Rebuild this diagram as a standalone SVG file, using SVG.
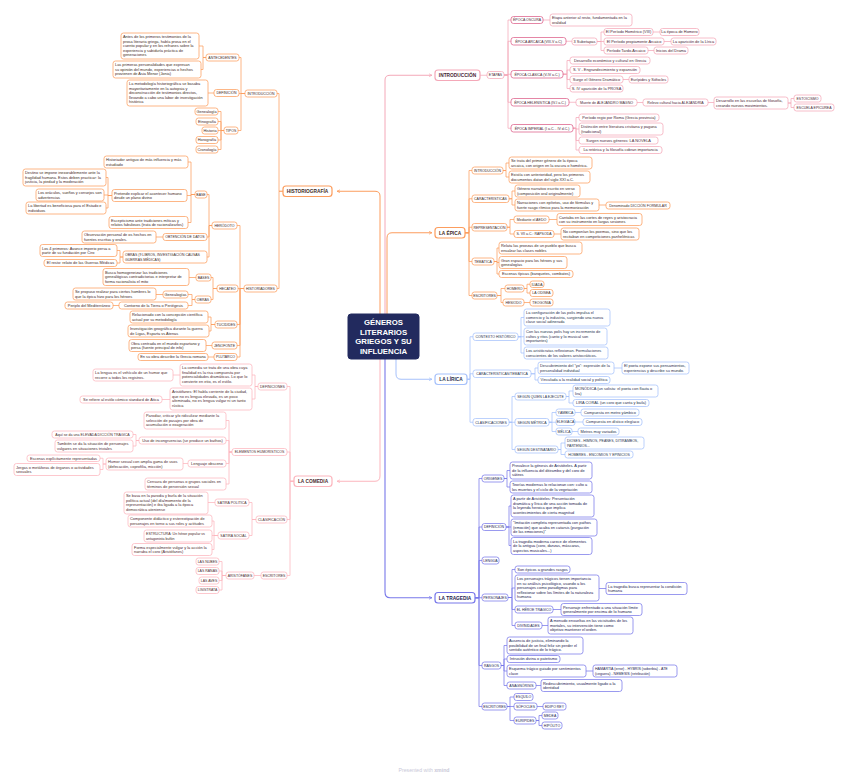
<svg xmlns="http://www.w3.org/2000/svg" width="848" height="778" viewBox="0 0 848 778">
<defs>
<style>
text{font-family:"Liberation Sans",Arial,Helvetica,sans-serif;font-size:3.9px;fill:#333}
.a{text-anchor:middle}
.c{font-size:3.5px}
.s{font-size:3.6px}
rect{fill:#fff;stroke-width:.75}
.m rect{stroke-width:1.2}
.m text{font-size:4.8px;font-weight:bold;fill:#2b2b2b}
.pk rect{stroke:#f4a8b8}
.pd rect{stroke:#dc5d88}
.pk text,.pd text{fill:#4b2633}
.or rect{stroke:#fc9d5e}
.or text{fill:#3f2a1d}
.cm rect{stroke:#fcb5bd}
.cm text{fill:#4e2b2e}
.lb rect{stroke:#a6c1fb}
.lb text{fill:#27324e}
.tr rect{stroke:#7878ea}
.tr text{fill:#22224f}
#center rect{fill:#222a5e;stroke:#222a5e;stroke-width:1}
#center text{fill:#fff;font-weight:bold;font-size:7.8px;text-anchor:middle}
#bg{fill:#fff;stroke:none}
</style>
<marker id="ar-or" viewBox="0 0 6 6" refX="5" refY="3" markerWidth="4" markerHeight="4" markerUnits="userSpaceOnUse" orient="auto"><path d="M0.5,0.8L5,3L0.5,5.2" fill="none" stroke="#fc9d5e" stroke-width="1"/></marker>
<marker id="ar-pk" viewBox="0 0 6 6" refX="5" refY="3" markerWidth="4" markerHeight="4" markerUnits="userSpaceOnUse" orient="auto"><path d="M0.5,0.8L5,3L0.5,5.2" fill="none" stroke="#f4a8b8" stroke-width="1"/></marker>
<marker id="ar-cm" viewBox="0 0 6 6" refX="5" refY="3" markerWidth="4" markerHeight="4" markerUnits="userSpaceOnUse" orient="auto"><path d="M0.5,0.8L5,3L0.5,5.2" fill="none" stroke="#fcb5bd" stroke-width="1"/></marker>
<marker id="ar-lb" viewBox="0 0 6 6" refX="5" refY="3" markerWidth="4" markerHeight="4" markerUnits="userSpaceOnUse" orient="auto"><path d="M0.5,0.8L5,3L0.5,5.2" fill="none" stroke="#a6c1fb" stroke-width="1"/></marker>
<marker id="ar-tr" viewBox="0 0 6 6" refX="5" refY="3" markerWidth="4" markerHeight="4" markerUnits="userSpaceOnUse" orient="auto"><path d="M0.5,0.8L5,3L0.5,5.2" fill="none" stroke="#7878ea" stroke-width="1"/></marker>
</defs>
<rect id="bg" width="848" height="778"/>

<g id="connectors" fill="none" stroke-width="0.75">
 <g stroke="#f4a8b8">
  <path d="M385,314V80Q385,75.25 390,75.25H432" stroke-width="1" marker-end="url(#ar-pk)"/>
  <path d="M480,75.25H487"/>
  <path d="M504,75H508V20H511M504,75H508V41.25H511M504,75H508V74.25H511M504,75H508V102.25H511M504,75H508V128.25H511"/>
  <path d="M543,20H550M566,41.25H572"/>
  <path d="M597,41.5H601V32H604M597,41.5H604M597,41.5H601V50.5H604"/>
  <path d="M653,32H660M664,41.5H671M648,50.5H654"/>
  <path d="M563,74.25H567V60.5H570M563,74.25H567V70H570M563,74.25H567V79.5H570M563,74.25H567V88.5H570"/>
  <path d="M623,79.5H629"/>
  <path d="M569,102.25H576M637,102.5H643M708,102.5H714M788,103H791V98.5H794M788,103H791V107.5H794"/>
  <path d="M573,128.25H576V117.5H579M573,128.25H576V129H579M573,128.25H576V140.5H579M573,128.25H576V150H579"/>
 </g>
 <g stroke="#fc9d5e">
  <path d="M380,314V196Q380,191.25 375,191.25H337" stroke-width="1" marker-end="url(#ar-or)"/>
  <path d="M387,314V238Q387,232.75 392,232.75H432" stroke-width="1" marker-end="url(#ar-or)"/>
  <path d="M465,232.75H469V170.5H472M465,232.75H469V198.75H472M465,232.75H469V227.25H472M465,232.75H469V261.5H472M465,232.75H469V295.5H472"/>
  <path d="M503,170.5H506V163H509M503,170.5H506V177H509"/>
  <path d="M509,198.75H512V191H515M509,198.75H512V205H515M599,205H606"/>
  <path d="M507,227.25H510V219.5H514M507,227.25H510V234H514M549,219.5H557M554,234H561"/>
  <path d="M494,261.5H497V248H499M494,261.5H497V262.5H499M494,261.5H497V274H499"/>
  <path d="M497,295.5H501V288.5H505M497,295.5H501V302.5H503"/>
  <path d="M524,288.5H527V284.25H530M524,288.5H527V293H530M524,302.5H530"/>
  <path d="M283,191.25H279V93.5H277M283,191.25H279V288.5H277"/>
  <path d="M245,93.5H241V57.5H239M245,93.5H239M245,93.5H241V130.5H238"/>
  <path d="M206,57.5H203V46H199M206,57.5H203V69.5H201M214,93H208"/>
  <path d="M224,130.5H221V111.5H218M224,130.5H221V121.5H218M224,130.5H218M224,130.5H221V140H218M224,130.5H221V149.5H218"/>
  <path d="M244,288.5H240V225.5H237M244,288.5H238M244,288.5H240V324.5H237M244,288.5H240V345.5H237M244,288.5H240V357H237"/>
  <path d="M212,225.5H209V194.5H207M212,225.5H209V237H207M212,225.5H209V257H207"/>
  <path d="M195,194.5H191V162H188M195,194.5H191V195.5H187M195,194.5H191V222.5H188"/>
  <path d="M112,195.5H108V177.5H106M112,195.5H108V195H104M112,195.5H108V208H106"/>
  <path d="M163,237H156M123,257H120V250.5H117M123,257H120V263H117"/>
  <path d="M217,288.5H213V277.5H211M217,288.5H213V299.5H211M196,277.5H189"/>
  <path d="M195,299.5H192V294.5H188M195,299.5H192V305.5H188M163,294.5H156M119,305.5H113"/>
  <path d="M215,324.5H211V317H208M215,324.5H211V331H209M212,345.5H206M214,357H208"/>
 </g>
 <g stroke="#fcb5bd">
  <path d="M380,359V476Q380,481.25 375,481.25H337" stroke-width="1" marker-end="url(#ar-cm)"/>
  <path d="M294,481.25H290V386.5H287M294,481.25H290V452H287M294,481.25H290V519.5H287M294,481.25H290V575.5H287"/>
  <path d="M258,386.5H255V375H252M258,386.5H255V399H252M180,375H173M170,399.5H162"/>
  <path d="M232,452H229V420.5H226M232,452H229V440.5H226M232,452H229V463.5H226M232,452H229V484H226"/>
  <path d="M139,440.5H136V434.5H133M139,440.5H136V446H133M188,463.5H183"/>
  <path d="M106,464H103V458.25H100M106,464H103V469.5H100"/>
  <path d="M256,519.5H252V502.5H249M256,519.5H252V535.5H249M215,502.5H208"/>
  <path d="M218,535.5H214V521H212M218,535.5H212M218,535.5H214V549.5H212"/>
  <path d="M261,575.5H254M226,575.5H222V561.5H219M226,575.5H222V571H219M226,575.5H222V580.5H219M226,575.5H222V590H219"/>
 </g>
 <g stroke="#a6c1fb">
  <path d="M396,359V374Q396,379.25 401,379.25H432" stroke-width="1" marker-end="url(#ar-lb)"/>
  <path d="M467,379.25H470V336.75H473M467,379.25H470V373.75H473M467,379.25H470V422.25H473"/>
  <path d="M518,336.75H521V317.5H524M518,336.75H524M518,336.75H521V353H524"/>
  <path d="M531,373.75H535V368H538M531,373.75H535V380H538M614,368H622"/>
  <path d="M509,422.25H512V396.5H515M509,422.25H515M509,422.25H512V449.5H515"/>
  <path d="M566,396.5H569V391H573M566,396.5H569V403H573"/>
  <path d="M549,422.25H552V412.5H556M549,422.25H556M549,422.25H552V431.5H556"/>
  <path d="M575,412.5H581M575,422H583M572,431.5H578"/>
  <path d="M558,449.5H561V443H565M558,449.5H561V454.5H565"/>
 </g>
 <g stroke="#7878ea">
  <path d="M385,359V592Q385,597.75 390,597.75H432" stroke-width="1.1" marker-end="url(#ar-tr)"/>
  <path d="M475,597.75H479V478.5H482M475,597.75H479V527H482M475,597.75H479V560.5H482M475,597.75H482M475,597.75H479V665.5H482M475,597.75H479V706.5H482"/>
  <path d="M504,478.5H507V470.5H510M504,478.5H507V487H510"/>
  <path d="M506,527H509V506H511M506,527H511M506,527H509V545.5H511"/>
  <path d="M508,597.5H512V569.5H515M508,597.5H512V588H515M508,597.5H512V609.5H515M508,597.5H512V625.5H515"/>
  <path d="M599,588.5H606M553,609.5H561M542,625.5H548"/>
  <path d="M501,665.5H504V645.5H507M501,665.5H504V659H507M501,665.5H504V671H507M501,665.5H504V685.5H507"/>
  <path d="M586,671H593M536,685.5H541"/>
  <path d="M507,706.5H510V697H514M507,706.5H514M507,706.5H510V720.5H514"/>
  <path d="M537,706.5H543M536,720.5H539V715.5H542M536,720.5H539V725.5H542"/>
 </g>
</g>

<g id="center"><rect x="348" y="314" width="71" height="45" rx="3"/><text x="383.5" y="325">GÉNEROS</text><text x="383.5" y="334.5">LITERARIOS</text><text x="383.5" y="344">GRIEGOS Y SU</text><text x="383.5" y="353.5">INFLUENCIA</text></g>

<!-- INTRODUCCIÓN (right) -->
<g id="n-intro" class="pk m"><rect x="435" y="70" width="45" height="10.5" rx="3"/><text class="a" x="457.5" y="77">INTRODUCCIÓN</text></g>
<g id="n-etapas" class="pk"><rect x="487" y="71.5" width="17" height="7" rx="2.5"/><text class="a c" x="495.5" y="76.2">ETAPAS</text></g>
<g id="n-oscura" class="pd"><rect x="511" y="16.5" width="32" height="7" rx="2.5"/><text class="a c" x="527" y="21.2">ÉPOCA OSCURA</text></g>
<g id="n-oscura-1" class="pk"><rect x="550" y="14" width="82" height="12" rx="2.5"/><text x="552" y="19">Etapa anterior al resto, fundamentada en la<tspan x="552" dy="4.6">oralidad</tspan></text></g>
<g id="n-arcaica" class="pd"><rect x="511" y="37.5" width="55" height="7.5" rx="2.5"/><text class="a c" x="538.5" y="42.5">ÉPOCA ARCAICA (VIII-V a.C)</text></g>
<g id="n-subetapas" class="pk"><rect x="572" y="38" width="25" height="7" rx="2.5"/><text class="a" x="584.5" y="42.9">3 Subetapas</text></g>
<g id="n-homerico" class="pk"><rect x="604" y="28.5" width="49" height="7" rx="2.5"/><text class="a" x="628.5" y="33.4">El Período Homérico (VIII)</text></g>
<g id="n-homero" class="pk"><rect x="660" y="28.5" width="39" height="7" rx="2.5"/><text class="a" x="679.5" y="33.4">La época de Homero</text></g>
<g id="n-propio" class="pk"><rect x="604" y="38" width="60" height="7" rx="2.5"/><text class="a" x="634" y="42.9">El Período propiamente Arcaico</text></g>
<g id="n-lirica-ap" class="pk"><rect x="671" y="38" width="45" height="7" rx="2.5"/><text class="a" x="693.5" y="42.9">La aparición de la Lírica</text></g>
<g id="n-tardo" class="pk"><rect x="604" y="47" width="44" height="7" rx="2.5"/><text class="a" x="626" y="51.9">Período Tardo-Arcaico</text></g>
<g id="n-drama" class="pk"><rect x="654" y="47" width="34" height="7" rx="2.5"/><text class="a" x="671" y="51.9">Inicios del Drama</text></g>
<g id="n-clasica" class="pd"><rect x="511" y="70.5" width="52" height="7.5" rx="2.5"/><text class="a c" x="537" y="75.5">ÉPOCA CLÁSICA (V-IV a.C.)</text></g>
<g id="n-clas-1" class="pk"><rect x="570" y="57" width="80" height="7" rx="2.5"/><text class="a" x="610" y="61.9">Desarrollo económico y cultural en Grecia</text></g>
<g id="n-clas-2" class="pk"><rect x="570" y="66.5" width="70" height="7" rx="2.5"/><text class="a" x="605" y="71.4">S. V - Engrandecimiento y expansión</text></g>
<g id="n-clas-3" class="pk"><rect x="570" y="76" width="53" height="7" rx="2.5"/><text class="a" x="596.5" y="80.9">Surge el Género Dramático</text></g>
<g id="n-clas-3a" class="pk"><rect x="629" y="76" width="39" height="7" rx="2.5"/><text class="a" x="648.5" y="80.9">Eurípides y Sófocles</text></g>
<g id="n-clas-4" class="pk"><rect x="570" y="85" width="53" height="7" rx="2.5"/><text class="a" x="596.5" y="89.9">S. IV aparición de la PROSA</text></g>
<g id="n-helen" class="pd"><rect x="511" y="98.5" width="58" height="7.5" rx="2.5"/><text class="a c" x="540" y="103.5">ÉPOCA HELENÍSTICA (IV-I a.C.)</text></g>
<g id="n-helen-1" class="pk"><rect x="576" y="99" width="61" height="7" rx="2.5"/><text class="a s" x="606.5" y="103.8">Muerte de ALEJANDRO MAGNO</text></g>
<g id="n-helen-2" class="pk"><rect x="643" y="99" width="65" height="7" rx="2.5"/><text class="a s" x="675.5" y="103.8">Relevo cultural hacia ALEJANDRÍA</text></g>
<g id="n-helen-3" class="pk"><rect x="714" y="97" width="74" height="12" rx="2.5"/><text x="716" y="102">Desarrollo en las escuelas de filosofía,<tspan x="716" dy="4.6">creando nuevos movimientos.</tspan></text></g>
<g id="n-estoicismo" class="pk"><rect x="794" y="95" width="27" height="7" rx="2.5"/><text class="a c" x="807.5" y="99.7">ESTOICISMO</text></g>
<g id="n-epicurea" class="pk"><rect x="794" y="104" width="40" height="7" rx="2.5"/><text class="a c" x="814" y="108.7">ESCUELA EPICÚREA</text></g>
<g id="n-imperial" class="pd"><rect x="511" y="124.5" width="62" height="7.5" rx="2.5"/><text class="a c" x="542" y="129.5">ÉPOCA IMPERIAL (I a.C. - IV d.C.)</text></g>
<g id="n-imp-1" class="pk"><rect x="579" y="114" width="80" height="7" rx="2.5"/><text class="a" x="619" y="118.9">Período regio por Roma (Grecia provincia)</text></g>
<g id="n-imp-2" class="pk"><rect x="579" y="123" width="84" height="12" rx="2.5"/><text x="581" y="128">Distinción entre literatura cristiana y pagana<tspan x="581" dy="4.6">(tradicional)</tspan></text></g>
<g id="n-imp-3" class="pk"><rect x="579" y="137" width="79" height="7" rx="2.5"/><text class="a" x="618.5" y="141.9">Surgen nuevos géneros: LA NOVELA</text></g>
<g id="n-imp-4" class="pk"><rect x="579" y="146.5" width="83" height="7" rx="2.5"/><text class="a" x="620.5" y="151.4">La retórica y la filosofía cobran importancia</text></g>

<!-- LA ÉPICA -->
<g id="n-epica" class="or m"><rect x="435" y="227.5" width="30" height="10.5" rx="3"/><text class="a" x="450" y="234.5">LA ÉPICA</text></g>
<g id="n-ep-intro" class="or"><rect x="472" y="167" width="31" height="7" rx="2.5"/><text class="a c" x="487.5" y="171.7">INTRODUCCIÓN</text></g>
<g id="n-ep-intro-1" class="or"><rect x="509" y="157" width="83" height="12" rx="2.5"/><text x="511" y="162">Se trata del primer género de la época<tspan x="511" dy="4.6">arcaica, con origen en la oscura o homérica.</tspan></text></g>
<g id="n-ep-intro-2" class="or"><rect x="509" y="171" width="81" height="12" rx="2.5"/><text x="511" y="176">Existía con anterioridad, pero los primeros<tspan x="511" dy="4.6">documentos datan del siglo XXI a.C.</tspan></text></g>
<g id="n-ep-car" class="or"><rect x="472" y="195" width="37" height="7.5" rx="2.5"/><text class="a c" x="490.5" y="200">CARACTERÍSTICAS</text></g>
<g id="n-ep-car-1" class="or"><rect x="515" y="185" width="65" height="12" rx="2.5"/><text x="517" y="190">Género narrativo escrito en verso<tspan x="517" dy="4.6">(composición oral originalmente)</tspan></text></g>
<g id="n-ep-car-2" class="or"><rect x="515" y="199" width="84" height="12" rx="2.5"/><text x="517" y="204">Narraciones con epítetos, uso de fórmulas y<tspan x="517" dy="4.6">fuerte rasgo rítmico para la memorización</tspan></text></g>
<g id="n-ep-diccion" class="or"><rect x="606" y="202" width="64" height="7" rx="2.5"/><text class="a s" x="638" y="206.8">Denominado DICCIÓN FORMULAR</text></g>
<g id="n-ep-rep" class="or"><rect x="472" y="223.5" width="35" height="7.5" rx="2.5"/><text class="a c" x="489.5" y="228.5">REPRESENTACIÓN</text></g>
<g id="n-ep-aedo" class="or"><rect x="514" y="216" width="35" height="7" rx="2.5"/><text class="a s" x="531.5" y="220.8">Mediante el AEDO</text></g>
<g id="n-ep-aedo-1" class="or"><rect x="557" y="213.5" width="85" height="12" rx="2.5"/><text x="559" y="218.5">Cantaba en las cortes de reyes y aristocracia<tspan x="559" dy="4.6">con su instrumento en largas sesiones</tspan></text></g>
<g id="n-ep-rapsoda" class="or"><rect x="514" y="230.5" width="40" height="7" rx="2.5"/><text class="a c" x="534" y="235.3">S. VII a.C.: RAPSODA</text></g>
<g id="n-ep-rapsoda-1" class="or"><rect x="561" y="228" width="78" height="12" rx="2.5"/><text x="563" y="233">No componían los poemas, sino que los<tspan x="563" dy="4.6">recitaban en competiciones panhelénicas</tspan></text></g>
<g id="n-ep-tem" class="or"><rect x="472" y="258" width="22" height="7" rx="2.5"/><text class="a c" x="483" y="262.7">TEMÁTICA</text></g>
<g id="n-ep-tem-1" class="or"><rect x="499" y="242" width="83" height="12" rx="2.5"/><text x="501" y="247">Relata las proezas de un pueblo que busca<tspan x="501" dy="4.6">ensalzar las clases nobles</tspan></text></g>
<g id="n-ep-tem-2" class="or"><rect x="499" y="256.5" width="68" height="12" rx="2.5"/><text x="501" y="261.5">Gran espacio para los héroes y sus<tspan x="501" dy="4.6">genealogías</tspan></text></g>
<g id="n-ep-tem-3" class="or"><rect x="499" y="270.5" width="74" height="7" rx="2.5"/><text class="a" x="536" y="275.4">Escenas típicas (banquetes, combates)</text></g>
<g id="n-ep-esc" class="or"><rect x="472" y="292" width="25" height="7" rx="2.5"/><text class="a c" x="484.5" y="296.7">ESCRITORES</text></g>
<g id="n-ep-homero" class="or"><rect x="505" y="285" width="19" height="7" rx="2.5"/><text class="a c" x="514.5" y="289.7">HOMERO</text></g>
<g id="n-ep-iliada" class="or"><rect x="530" y="281" width="14" height="6.5" rx="2.5"/><text class="a c" x="537" y="285.5">ILIADA</text></g>
<g id="n-ep-odisea" class="or"><rect x="530" y="289.5" width="23" height="7" rx="2.5"/><text class="a c" x="541.5" y="294.2">LA ODISEA</text></g>
<g id="n-ep-hesiodo" class="or"><rect x="503" y="299" width="21" height="7" rx="2.5"/><text class="a c" x="513.5" y="303.7">HESÍODO</text></g>
<g id="n-ep-teogonia" class="or"><rect x="530" y="299" width="23" height="7" rx="2.5"/><text class="a c" x="541.5" y="303.7">TEOGONÍA</text></g>

<!-- LA LÍRICA -->
<g id="n-lirica" class="lb m"><rect x="435" y="374" width="32" height="10.5" rx="3"/><text class="a" x="451" y="381">LA LÍRICA</text></g>
<g id="n-li-ctx" class="lb"><rect x="473" y="333" width="45" height="7.5" rx="2.5"/><text class="a c" x="495.5" y="338">CONTEXTO HISTÓRICO</text></g>
<g id="n-li-ctx-1" class="lb"><rect x="524" y="309" width="86" height="17" rx="2.5"/><text x="526" y="314">La configuración de las polis impulsa el<tspan x="526" dy="4.6">comercio y la industria, surgiendo una nueva</tspan><tspan x="526" dy="4.6">clase social adinerada</tspan></text></g>
<g id="n-li-ctx-2" class="lb"><rect x="524" y="328" width="83" height="17" rx="2.5"/><text x="526" y="333">Con las nuevas polis hay un incremento de<tspan x="526" dy="4.6">cultos y ritos (canto y lo musical son</tspan><tspan x="526" dy="4.6">importantes)</tspan></text></g>
<g id="n-li-ctx-3" class="lb"><rect x="524" y="347" width="84" height="12" rx="2.5"/><text x="526" y="352">Los aristócratas reflexionan. Formulaciones<tspan x="526" dy="4.6">conscientes de los valores aristocráticos.</tspan></text></g>
<g id="n-li-car" class="lb"><rect x="473" y="370" width="58" height="7.5" rx="2.5"/><text class="a c" x="502" y="375">CARACTERÍSTICAS/TEMÁTICA</text></g>
<g id="n-li-car-1" class="lb"><rect x="538" y="362" width="76" height="12" rx="2.5"/><text x="540" y="367">Descubrimiento del "yo": expresión de la<tspan x="540" dy="4.6">personalidad individual</tspan></text></g>
<g id="n-li-car-1a" class="lb"><rect x="622" y="362" width="67" height="12" rx="2.5"/><text x="624" y="367">El poeta expone sus pensamientos,<tspan x="624" dy="4.6">experiencias y describe su mundo.</tspan></text></g>
<g id="n-li-car-2" class="lb"><rect x="538" y="376.5" width="72" height="7" rx="2.5"/><text class="a" x="574" y="381.4">Vinculada a la realidad social y política</text></g>
<g id="n-li-cla" class="lb"><rect x="473" y="418.5" width="36" height="7.5" rx="2.5"/><text class="a c" x="491" y="423.5">CLASIFICACIONES</text></g>
<g id="n-li-quien" class="lb"><rect x="515" y="393" width="51" height="7" rx="2.5"/><text class="a c" x="540.5" y="397.7">SEGÚN QUIEN LA EJECUTE</text></g>
<g id="n-li-monodica" class="lb"><rect x="573" y="385" width="85" height="12" rx="2.5"/><text x="575" y="390">MONÓDICA (un solista: el poeta con flauta o<tspan x="575" dy="4.6">lira)</tspan></text></g>
<g id="n-li-coral" class="lb"><rect x="573" y="399.5" width="76" height="7" rx="2.5"/><text class="a" x="611" y="404.4">LIRA CORAL (un coro que canta y baila)</text></g>
<g id="n-li-metrica" class="lb"><rect x="515" y="418.5" width="34" height="7.5" rx="2.5"/><text class="a c" x="532" y="423.5">SEGÚN MÉTRICA</text></g>
<g id="n-li-yambica" class="lb"><rect x="556" y="409" width="19" height="7" rx="2.5"/><text class="a c" x="565.5" y="413.7">YÁMBICA</text></g>
<g id="n-li-yambica-1" class="lb"><rect x="581" y="409" width="58" height="7" rx="2.5"/><text class="a" x="610" y="413.9">Compuesta en metro yámbico</text></g>
<g id="n-li-elegiaca" class="lb"><rect x="556" y="418.5" width="19" height="7" rx="2.5"/><text class="a c" x="565.5" y="423.2">ELEGÍACA</text></g>
<g id="n-li-elegiaca-1" class="lb"><rect x="583" y="418.5" width="59" height="7" rx="2.5"/><text class="a" x="612.5" y="423.4">Compuesta en dístico elegíaco</text></g>
<g id="n-li-melica" class="lb"><rect x="556" y="428" width="16" height="7" rx="2.5"/><text class="a c" x="564" y="432.7">MÉLICA</text></g>
<g id="n-li-melica-1" class="lb"><rect x="578" y="428" width="41" height="7" rx="2.5"/><text class="a" x="598.5" y="432.9">Metros muy variados</text></g>
<g id="n-li-dest" class="lb"><rect x="515" y="446" width="43" height="7" rx="2.5"/><text class="a c" x="536.5" y="450.7">SEGÚN DESTINATARIO</text></g>
<g id="n-li-dioses" class="lb"><rect x="565" y="437" width="79" height="12" rx="2.5"/><text class="c" x="567" y="442">DIOSES - HIMNOS, PEANES, DITIRAMBOS,<tspan x="567" dy="4.6">PARTENIOS...</tspan></text></g>
<g id="n-li-hombres" class="lb"><rect x="565" y="451" width="68" height="7" rx="2.5"/><text class="a c" x="599" y="455.7">HOMBRES - ENCOMIOS Y EPINICIOS</text></g>

<!-- LA TRAGEDIA -->
<g id="n-tragedia" class="tr m"><rect x="435" y="592.5" width="40" height="10.5" rx="3"/><text class="a" x="455" y="599.5">LA TRAGEDIA</text></g>
<g id="n-tr-origen" class="tr"><rect x="482" y="475" width="22" height="7" rx="2.5"/><text class="a c" x="493" y="479.7">ORÍGENES</text></g>
<g id="n-tr-origen-1" class="tr"><rect x="510" y="462" width="82" height="17" rx="2.5"/><text x="512" y="467">Prevalece la génesis de Aristóteles. A partir<tspan x="512" dy="4.6">de la influencia del ditirambo y del coro de</tspan><tspan x="512" dy="4.6">sátiros</tspan></text></g>
<g id="n-tr-origen-2" class="tr"><rect x="510" y="481" width="82" height="12" rx="2.5"/><text x="512" y="486">Teorías modernas lo relacionan con: culto a<tspan x="512" dy="4.6">los muertos y el ciclo de la vegetación</tspan></text></g>
<g id="n-tr-def" class="tr"><rect x="482" y="523.5" width="24" height="7" rx="2.5"/><text class="a c" x="494" y="528.2">DEFINICIÓN</text></g>
<g id="n-tr-def-1" class="tr"><rect x="511" y="495" width="83" height="22" rx="2.5"/><text x="513" y="500">A partir de Aristóteles: Presentación<tspan x="513" dy="4.6">dramática y lírica de una acción tomada de</tspan><tspan x="513" dy="4.6">la leyenda heroica que implica</tspan><tspan x="513" dy="4.6">acontecimientos de cierta magnitud</tspan></text></g>
<g id="n-tr-def-2" class="tr"><rect x="511" y="519" width="86" height="17" rx="2.5"/><text x="513" y="524">"Imitación completa representada con pathos<tspan x="513" dy="4.6">(emoción) que acaba en catarsis (purgación</tspan><tspan x="513" dy="4.6">de las emociones)"</tspan></text></g>
<g id="n-tr-def-3" class="tr"><rect x="511" y="537.5" width="81" height="17" rx="2.5"/><text x="513" y="542.5">La tragedia moderna carece de elementos<tspan x="513" dy="4.6">de la antigua (coro, danzas, máscaras,</tspan><tspan x="513" dy="4.6">aspectos musicales...)</tspan></text></g>
<g id="n-tr-lengua" class="tr"><rect x="482" y="557" width="17" height="7" rx="2.5"/><text class="a c" x="490.5" y="561.7">LENGUA</text></g>
<g id="n-tr-pers" class="tr"><rect x="482" y="594" width="26" height="7" rx="2.5"/><text class="a c" x="495" y="598.7">PERSONAJES</text></g>
<g id="n-tr-pers-1" class="tr"><rect x="515" y="566" width="55" height="7" rx="2.5"/><text class="a" x="542.5" y="570.9">Son épicos a grandes rasgos</text></g>
<g id="n-tr-pers-2" class="tr"><rect x="515" y="575" width="84" height="26" rx="2.5"/><text x="517" y="580">Los personajes trágicos tienen importancia<tspan x="517" dy="4.6">en su análisis psicológico, usando a los</tspan><tspan x="517" dy="4.6">personajes como paradigmas para</tspan><tspan x="517" dy="4.6">reflexionar sobre los límites de la naturaleza</tspan><tspan x="517" dy="4.6">humana</tspan></text></g>
<g id="n-tr-pers-2a" class="tr"><rect x="606" y="582.5" width="81" height="12" rx="2.5"/><text x="608" y="587.5">La tragedia busca representar la condición<tspan x="608" dy="4.6">humana</tspan></text></g>
<g id="n-tr-heroe" class="tr"><rect x="515" y="606" width="38" height="7" rx="2.5"/><text class="a c" x="534" y="610.7">EL HÉROE TRÁGICO</text></g>
<g id="n-tr-heroe-1" class="tr"><rect x="561" y="603.5" width="81" height="12" rx="2.5"/><text x="563" y="608.5">Personaje enfrentado a una situación límite<tspan x="563" dy="4.6">generalmente por encima de lo humano</tspan></text></g>
<g id="n-tr-div" class="tr"><rect x="515" y="622" width="27" height="7" rx="2.5"/><text class="a c" x="528.5" y="626.7">DIVINIDADES</text></g>
<g id="n-tr-div-1" class="tr"><rect x="548" y="617" width="85" height="17" rx="2.5"/><text x="550" y="622">A menudo envueltas en las vicisitudes de los<tspan x="550" dy="4.6">mortales, su intervención tiene como</tspan><tspan x="550" dy="4.6">objetivo mantener el orden.</tspan></text></g>
<g id="n-tr-rasgos" class="tr"><rect x="482" y="662" width="19" height="7" rx="2.5"/><text class="a c" x="491.5" y="666.7">RASGOS</text></g>
<g id="n-tr-rasgos-1" class="tr"><rect x="507" y="637" width="76" height="17" rx="2.5"/><text x="509" y="642">Ausencia de justicia, eliminando la<tspan x="509" dy="4.6">posibilidad de un final feliz sin perder el</tspan><tspan x="509" dy="4.6">sentido auténtico de lo trágico.</tspan></text></g>
<g id="n-tr-rasgos-2" class="tr"><rect x="507" y="655.5" width="53" height="7" rx="2.5"/><text class="a" x="533.5" y="660.4">Intrusión divina o patetismo</text></g>
<g id="n-tr-rasgos-3" class="tr"><rect x="507" y="665" width="79" height="12" rx="2.5"/><text x="509" y="670">Esquema trágico guiado por sentimientos<tspan x="509" dy="4.6">clave</tspan></text></g>
<g id="n-tr-hamartia" class="tr"><rect x="593" y="665" width="84" height="12" rx="2.5"/><text class="s" x="595" y="670">HAMARTIA (error) - HYBRIS (soberbia) - ATE<tspan x="595" dy="4.6">(ceguera) - NEMESIS (retribución)</tspan></text></g>
<g id="n-tr-anag" class="tr"><rect x="507" y="682" width="29" height="7" rx="2.5"/><text class="a c" x="521.5" y="686.7">ANAGNÓRISIS</text></g>
<g id="n-tr-anag-1" class="tr"><rect x="541" y="679.5" width="81" height="12" rx="2.5"/><text x="543" y="684.5">Redescubrimiento, usualmente ligado a la<tspan x="543" dy="4.6">identidad</tspan></text></g>
<g id="n-tr-esc" class="tr"><rect x="482" y="703" width="25" height="7" rx="2.5"/><text class="a c" x="494.5" y="707.7">ESCRITORES</text></g>
<g id="n-tr-esquilo" class="tr"><rect x="514" y="693.5" width="19" height="7" rx="2.5"/><text class="a c" x="523.5" y="698.2">ESQUILO</text></g>
<g id="n-tr-sofocles" class="tr"><rect x="514" y="703" width="23" height="7" rx="2.5"/><text class="a c" x="525.5" y="707.7">SÓFOCLES</text></g>
<g id="n-tr-edipo" class="tr"><rect x="543" y="703" width="23" height="7" rx="2.5"/><text class="a c" x="554.5" y="707.7">EDIPO REY</text></g>
<g id="n-tr-euripides" class="tr"><rect x="514" y="717" width="22" height="7" rx="2.5"/><text class="a c" x="525" y="721.7">EURÍPIDES</text></g>
<g id="n-tr-medea" class="tr"><rect x="542" y="712" width="16" height="7" rx="2.5"/><text class="a c" x="550" y="716.7">MEDEA</text></g>
<g id="n-tr-hipolito" class="tr"><rect x="542" y="722" width="20" height="7" rx="2.5"/><text class="a c" x="552" y="726.7">HIPÓLITO</text></g>

<!-- HISTORIOGRAFÍA -->
<g id="n-hist" class="or m"><rect x="283" y="186" width="49" height="10.5" rx="3"/><text class="a" x="307.5" y="193">HISTORIOGRAFÍA</text></g>
<g id="n-hi-intro" class="or"><rect x="245" y="90" width="32" height="7" rx="2.5"/><text class="a c" x="261" y="94.7">INTRODUCCIÓN</text></g>
<g id="n-hi-antec" class="or"><rect x="206" y="54" width="33" height="7" rx="2.5"/><text class="a c" x="222.5" y="58.7">ANTECEDENTES</text></g>
<g id="n-hi-antec-1" class="or"><rect x="121" y="33" width="78" height="26" rx="2.5"/><text x="123" y="38">Antes de los primeros testimonios de la<tspan x="123" dy="4.6">prosa literaria griega, había prosa en el</tspan><tspan x="123" dy="4.6">cuento popular y en los refranes sobre la</tspan><tspan x="123" dy="4.6">experiencia y sabiduría práctica de</tspan><tspan x="123" dy="4.6">generaciones</tspan></text></g>
<g id="n-hi-antec-2" class="or"><rect x="113" y="61" width="88" height="17" rx="2.5"/><text x="115" y="66">Las primeras personalidades que expresan<tspan x="115" dy="4.6">su opinión del mundo, experiencias o hechos</tspan><tspan x="115" dy="4.6">provienen de Asia Menor (Jonia)</tspan></text></g>
<g id="n-hi-def" class="or"><rect x="214" y="89.5" width="25" height="7" rx="2.5"/><text class="a c" x="226.5" y="94.2">DEFINICIÓN</text></g>
<g id="n-hi-def-1" class="or"><rect x="127" y="80" width="81" height="26" rx="2.5"/><text x="129" y="85">La metodología historiográfica se basaba<tspan x="129" dy="4.6">mayoritariamente en la autopsia y</tspan><tspan x="129" dy="4.6">deconstrucción de testimonios directos,</tspan><tspan x="129" dy="4.6">llevando a cabo una labor de investigación</tspan><tspan x="129" dy="4.6">histórica</tspan></text></g>
<g id="n-hi-tipos" class="or"><rect x="224" y="127" width="14" height="7" rx="2.5"/><text class="a c" x="231" y="131.7">TIPOS</text></g>
<g id="n-hi-t1" class="or"><rect x="195" y="108" width="23" height="7" rx="2.5"/><text class="a" x="206.5" y="112.9">Genealogía</text></g>
<g id="n-hi-t2" class="or"><rect x="196" y="118" width="22" height="7" rx="2.5"/><text class="a" x="207" y="122.9">Etnografía</text></g>
<g id="n-hi-t3" class="or"><rect x="202" y="127" width="16" height="7" rx="2.5"/><text class="a" x="210" y="131.9">Historia</text></g>
<g id="n-hi-t4" class="or"><rect x="196" y="136.5" width="22" height="7" rx="2.5"/><text class="a" x="207" y="141.4">Horografía</text></g>
<g id="n-hi-t5" class="or"><rect x="196" y="146" width="22" height="7" rx="2.5"/><text class="a" x="207" y="150.9">Cronología</text></g>
<g id="n-hi-hist" class="or"><rect x="244" y="285" width="33" height="7" rx="2.5"/><text class="a c" x="260.5" y="289.7">HISTORIADORES</text></g>
<g id="n-hi-herodoto" class="or"><rect x="212" y="222" width="25" height="7" rx="2.5"/><text class="a c" x="224.5" y="226.7">HERÓDOTO</text></g>
<g id="n-hi-base" class="or"><rect x="195" y="191" width="12" height="7" rx="2.5"/><text class="a c" x="201" y="195.7">BASE</text></g>
<g id="n-hi-base-1" class="or"><rect x="104" y="156" width="84" height="12" rx="2.5"/><text x="106" y="161">Historiador antiguo de más influencia y más<tspan x="106" dy="4.6">estudiado</tspan></text></g>
<g id="n-hi-base-2" class="or"><rect x="112" y="189.5" width="75" height="12" rx="2.5"/><text x="114" y="194.5">Pretende explicar el acontecer humano<tspan x="114" dy="4.6">desde un plano divino</tspan></text></g>
<g id="n-hi-destino" class="or"><rect x="23" y="169" width="83" height="17" rx="2.5"/><text x="25" y="174">Destino se impone inexorablemente ante la<tspan x="25" dy="4.6">fragilidad humana. Estos deben practicar: la</tspan><tspan x="25" dy="4.6">justicia, la piedad y la moderación</tspan></text></g>
<g id="n-hi-oraculos" class="or"><rect x="36" y="189" width="68" height="12" rx="2.5"/><text x="38" y="194">Los oráculos, sueños y consejos son<tspan x="38" dy="4.6">advertencias</tspan></text></g>
<g id="n-hi-libertad" class="or"><rect x="26" y="202" width="80" height="12" rx="2.5"/><text x="28" y="207">La libertad es beneficiosa para el Estado e<tspan x="28" dy="4.6">individuos</tspan></text></g>
<g id="n-hi-base-3" class="or"><rect x="109" y="216.5" width="79" height="12" rx="2.5"/><text x="111" y="221.5">Escepticismo ante tradiciones míticas y<tspan x="111" dy="4.6">relatos fabulosos (trata de racionalizarlos)</tspan></text></g>
<g id="n-hi-obt" class="or"><rect x="163" y="233.5" width="44" height="7" rx="2.5"/><text class="a c" x="185" y="238.2">OBTENCIÓN DE DATOS</text></g>
<g id="n-hi-obt-1" class="or"><rect x="82" y="231" width="74" height="12" rx="2.5"/><text x="84" y="236">Observación personal de os hechos en<tspan x="84" dy="4.6">fuentes escritas y orales.</tspan></text></g>
<g id="n-hi-obras" class="or"><rect x="123" y="251" width="84" height="12" rx="2.5"/><text class="c" x="125" y="256">OBRAS (9 LIBROS, INVESTIGACIÓN CAUSAS<tspan x="125" dy="4.6">GUERRAS MÉDICAS)</tspan></text></g>
<g id="n-hi-obras-1" class="or"><rect x="40" y="244.5" width="77" height="12" rx="2.5"/><text x="42" y="249.5">Los 4 primeros: Avance imperio persa a<tspan x="42" dy="4.6">partir de su fundación por Ciro</tspan></text></g>
<g id="n-hi-obras-2" class="or"><rect x="44" y="259.5" width="73" height="7" rx="2.5"/><text class="a" x="80.5" y="264.4">El resto: relato de las Guerras Médicas</text></g>
<g id="n-hi-hecateo" class="or"><rect x="217" y="285" width="21" height="7" rx="2.5"/><text class="a c" x="227.5" y="289.7">HECATEO</text></g>
<g id="n-hi-bases" class="or"><rect x="196" y="274" width="15" height="7" rx="2.5"/><text class="a c" x="203.5" y="278.7">BASES</text></g>
<g id="n-hi-bases-1" class="or"><rect x="103" y="268.5" width="86" height="17" rx="2.5"/><text x="105" y="273.5">Busca homogeneizar las tradiciones<tspan x="105" dy="4.6">genealógicas contradictorias e interpretar de</tspan><tspan x="105" dy="4.6">forma racionalista el mito</tspan></text></g>
<g id="n-hi-obras2" class="or"><rect x="195" y="296" width="16" height="7" rx="2.5"/><text class="a c" x="203" y="300.7">OBRAS</text></g>
<g id="n-hi-geneal" class="or"><rect x="163" y="291" width="25" height="7" rx="2.5"/><text class="a" x="175.5" y="295.9">Genealogías</text></g>
<g id="n-hi-geneal-1" class="or"><rect x="73" y="288" width="83" height="12" rx="2.5"/><text x="75" y="293">Se propuso realizar para ciertos hombres lo<tspan x="75" dy="4.6">que la épica hizo para los héroes</tspan></text></g>
<g id="n-hi-contorno" class="or"><rect x="119" y="302" width="69" height="7" rx="2.5"/><text class="a" x="153.5" y="306.9">Contorno de la Tierra o Periégesis</text></g>
<g id="n-hi-periplo" class="or"><rect x="65" y="302" width="48" height="7" rx="2.5"/><text class="a" x="89" y="306.9">Periplo del Mediterráneo</text></g>
<g id="n-hi-tucidides" class="or"><rect x="215" y="321" width="22" height="7" rx="2.5"/><text class="a c" x="226" y="325.7">TUCÍDIDES</text></g>
<g id="n-hi-tuc-1" class="or"><rect x="130" y="311" width="78" height="12" rx="2.5"/><text x="132" y="316">Relacionado con la concepción científica<tspan x="132" dy="4.6">actual por su metodología</tspan></text></g>
<g id="n-hi-tuc-2" class="or"><rect x="128" y="325" width="81" height="12" rx="2.5"/><text x="130" y="330">Investigación geográfica durante la guerra<tspan x="130" dy="4.6">de Ligas, Esparta vs Atenas</tspan></text></g>
<g id="n-hi-jenofonte" class="or"><rect x="212" y="342" width="25" height="7" rx="2.5"/><text class="a c" x="224.5" y="346.7">JENOFONTE</text></g>
<g id="n-hi-jen-1" class="or"><rect x="129" y="339.5" width="77" height="12" rx="2.5"/><text x="131" y="344.5">Obra centrada en el mundo espartano y<tspan x="131" dy="4.6">persa (fuente principal de info)</tspan></text></g>
<g id="n-hi-plutarco" class="or"><rect x="214" y="353.5" width="23" height="7" rx="2.5"/><text class="a c" x="225.5" y="358.2">PLUTARCO</text></g>
<g id="n-hi-plu-1" class="or"><rect x="138" y="353.5" width="70" height="7" rx="2.5"/><text class="a" x="173" y="358.4">En su obra describe la Grecia romana</text></g>

<!-- LA COMEDIA -->
<g id="n-comedia" class="cm m"><rect x="294" y="476" width="38" height="10.5" rx="3"/><text class="a" x="313" y="483">LA COMEDIA</text></g>
<g id="n-co-def" class="cm"><rect x="258" y="383" width="29" height="7" rx="2.5"/><text class="a c" x="272.5" y="387.7">DEFINICIONES</text></g>
<g id="n-co-def-1" class="cm"><rect x="180" y="364" width="72" height="22" rx="2.5"/><text x="182" y="369">La comedia se trata de una obra cuya<tspan x="182" dy="4.6">finalidad es la risa compuesta por</tspan><tspan x="182" dy="4.6">potencialidades dramáticas. Lo que lo</tspan><tspan x="182" dy="4.6">convierte en etio, es el estilo.</tspan></text></g>
<g id="n-co-def-1a" class="cm"><rect x="93" y="369" width="80" height="12" rx="2.5"/><text x="95" y="374">La lengua es el vehículo de un humor que<tspan x="95" dy="4.6">recorre a todos los registros.</tspan></text></g>
<g id="n-co-def-2" class="cm"><rect x="170" y="388" width="82" height="22" rx="2.5"/><text x="172" y="393">Aristófanes: El habla corriente de la ciudad,<tspan x="172" dy="4.6">que no es lengua elevada, es un poco</tspan><tspan x="172" dy="4.6">afeminada, no es lengua vulgar ni un tanto</tspan><tspan x="172" dy="4.6">rústica</tspan></text></g>
<g id="n-co-def-2a" class="cm"><rect x="80" y="396" width="82" height="7" rx="2.5"/><text class="a" x="121" y="400.9">Se refiere al estilo cómico standard de Ática</text></g>
<g id="n-co-elem" class="cm"><rect x="232" y="448.5" width="55" height="7" rx="2.5"/><text class="a c" x="259.5" y="453.2">ELEMENTOS HUMORÍSTICOS</text></g>
<g id="n-co-elem-1" class="cm"><rect x="144" y="412" width="82" height="17" rx="2.5"/><text x="146" y="417">Parodiar, criticar y/o ridiculizar mediante la<tspan x="146" dy="4.6">selección de pasajes por obra de</tspan><tspan x="146" dy="4.6">acumulación o exageración</tspan></text></g>
<g id="n-co-elem-2" class="cm"><rect x="139" y="437" width="87" height="7" rx="2.5"/><text class="a" x="182.5" y="441.9">Uso de incongruencias (se produce un bathos)</text></g>
<g id="n-co-elem-2a" class="cm"><rect x="52" y="431" width="81" height="7" rx="2.5"/><text class="a s" x="92.5" y="435.8">Aquí se da una ELEVADA DICCIÓN TRÁGICA</text></g>
<g id="n-co-elem-2b" class="cm"><rect x="55" y="440" width="78" height="12" rx="2.5"/><text x="57" y="445">También se da la situación de personajes<tspan x="57" dy="4.6">vulgares en situaciones triviales</tspan></text></g>
<g id="n-co-elem-3" class="cm"><rect x="188" y="460" width="38" height="7" rx="2.5"/><text class="a" x="207" y="464.9">Lenguaje obsceno</text></g>
<g id="n-co-elem-3a" class="cm"><rect x="106" y="458" width="77" height="12" rx="2.5"/><text x="108" y="463">Humor sexual con amplia gama de usos<tspan x="108" dy="4.6">(defecación, coprofilia, micción)</tspan></text></g>
<g id="n-co-escenas" class="cm"><rect x="27" y="455" width="73" height="6.5" rx="2.5"/><text class="a" x="63.5" y="459.6">Escenas explícitamente representadas</text></g>
<g id="n-co-jergas" class="cm"><rect x="14" y="463.5" width="86" height="12" rx="2.5"/><text x="16" y="468.5">Jergas o metáforas de órganos o actividades<tspan x="16" dy="4.6">sexuales</tspan></text></g>
<g id="n-co-elem-4" class="cm"><rect x="145" y="478" width="81" height="12" rx="2.5"/><text x="147" y="483">Censura de personas o grupos sociales en<tspan x="147" dy="4.6">términos de perversión sexual</tspan></text></g>
<g id="n-co-clas" class="cm"><rect x="256" y="516" width="31" height="7" rx="2.5"/><text class="a c" x="271.5" y="520.7">CLASIFICACIÓN</text></g>
<g id="n-co-pol" class="cm"><rect x="215" y="499" width="34" height="7" rx="2.5"/><text class="a c" x="232" y="503.7">SÁTIRA POLÍTICA</text></g>
<g id="n-co-pol-1" class="cm"><rect x="124" y="492" width="84" height="22" rx="2.5"/><text x="126" y="497">Se basa en la parodia y burla de la situación<tspan x="126" dy="4.6">política actual (del día/momento de la</tspan><tspan x="126" dy="4.6">representación) e iba ligada a la época</tspan><tspan x="126" dy="4.6">democrática ateniense</tspan></text></g>
<g id="n-co-soc" class="cm"><rect x="218" y="532" width="31" height="7" rx="2.5"/><text class="a c" x="233.5" y="536.7">SÁTIRA SOCIAL</text></g>
<g id="n-co-soc-1" class="cm"><rect x="128" y="515" width="84" height="12" rx="2.5"/><text x="130" y="520">Componente didáctico y estereotipación de<tspan x="130" dy="4.6">personajes en torno a sus roles y actitudes</tspan></text></g>
<g id="n-co-soc-2" class="cm"><rect x="144" y="530" width="68" height="12" rx="2.5"/><text class="s" x="146" y="535">ESTRUCTURA: Un héroe popular vs<tspan x="146" dy="4.6">antagonista bufón</tspan></text></g>
<g id="n-co-soc-3" class="cm"><rect x="132" y="543.5" width="80" height="12" rx="2.5"/><text x="134" y="548.5">Forma especialmente vulgar y la acción la<tspan x="134" dy="4.6">narraba el coro (Aristófanes)</tspan></text></g>
<g id="n-co-esc" class="cm"><rect x="261" y="572" width="26" height="7" rx="2.5"/><text class="a c" x="274" y="576.7">ESCRITORES</text></g>
<g id="n-co-aristofanes" class="cm"><rect x="226" y="572" width="28" height="7" rx="2.5"/><text class="a c" x="240" y="576.7">ARISTÓFANES</text></g>
<g id="n-co-nubes" class="cm"><rect x="196" y="558" width="23" height="7" rx="2.5"/><text class="a c" x="207.5" y="562.7">LAS NUBES</text></g>
<g id="n-co-ranas" class="cm"><rect x="196" y="567.5" width="23" height="7" rx="2.5"/><text class="a c" x="207.5" y="572.2">LAS RANAS</text></g>
<g id="n-co-aves" class="cm"><rect x="199" y="577" width="20" height="7" rx="2.5"/><text class="a c" x="209" y="581.7">LAS AVES</text></g>
<g id="n-co-lisistrata" class="cm"><rect x="196" y="586.5" width="23" height="7" rx="2.5"/><text class="a c" x="207.5" y="591.2">LISÍSTRATA</text></g>

<text x="424" y="772" text-anchor="middle" style="font-size:5.2px;fill:#c9c9d8">Presented with <tspan style="font-weight:bold">xmind</tspan></text>
</svg>
